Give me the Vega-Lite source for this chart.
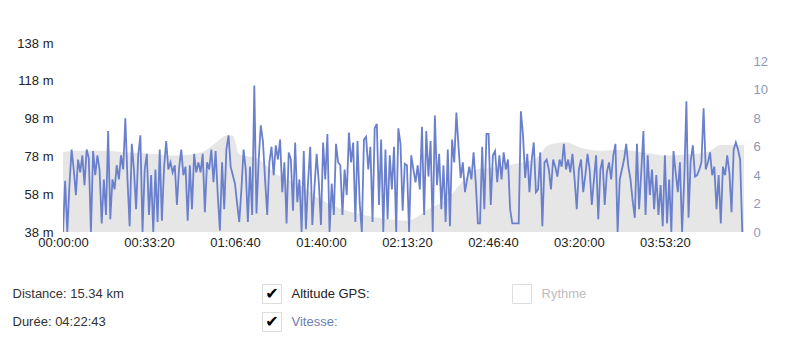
{
  "$schema": "https://vega.github.io/schema/vega-lite/v6.json",
  "background": "white",
  "padding": {"left": 12, "top": 37, "right": 5, "bottom": 0},
  "config": {"font": "Liberation Sans", "view": {"stroke": null}, "concat": {"spacing": 30}},
  "datasets": {
    "alt": [
      {"t":0,"alt":80.5},{"t":500,"alt":81},{"t":1000,"alt":81},{"t":1500,"alt":80},{"t":2000,"alt":79.5},{"t":2500,"alt":78.5},{"t":3000,"alt":79},{"t":3300,"alt":81},{"t":3600,"alt":86},{"t":3800,"alt":89},{"t":3950,"alt":89},{"t":4100,"alt":79},{"t":4500,"alt":77},{"t":5000,"alt":68},{"t":5500,"alt":63},{"t":6000,"alt":55},{"t":6500,"alt":50},{"t":7000,"alt":47},{"t":7500,"alt":45},{"t":8000,"alt":44},{"t":8500,"alt":50},{"t":9000,"alt":57},{"t":9300,"alt":65},{"t":9600,"alt":71},{"t":10000,"alt":72},{"t":10500,"alt":74},{"t":11000,"alt":77},{"t":11300,"alt":84},{"t":11700,"alt":85.5},{"t":12000,"alt":83},{"t":12500,"alt":81},{"t":13000,"alt":81.5},{"t":13500,"alt":80},{"t":14000,"alt":78.5},{"t":14500,"alt":79},{"t":15000,"alt":80.5},{"t":15300,"alt":84},{"t":15840,"alt":84}
    ],
    "speed": [
      {"t":0,"v":0},{"t":50,"v":3.6},{"t":100,"v":0},{"t":150,"v":3.3},{"t":200,"v":5.8},{"t":250,"v":4.4},{"t":300,"v":2.6},{"t":350,"v":5.1},{"t":400,"v":4.2},{"t":450,"v":5.4},
      {"t":500,"v":3.3},{"t":550,"v":5.8},{"t":600,"v":5.2},{"t":650,"v":0},{"t":700,"v":5.7},{"t":750,"v":4.0},{"t":800,"v":5.4},{"t":850,"v":4.4},{"t":900,"v":0.6},{"t":950,"v":3.7},
      {"t":1000,"v":1.2},{"t":1050,"v":7.1},{"t":1100,"v":0.9},{"t":1150,"v":3.7},{"t":1200,"v":3.0},{"t":1250,"v":4.7},{"t":1300,"v":3.7},{"t":1350,"v":5.4},{"t":1400,"v":4.4},{"t":1450,"v":8.0},
      {"t":1500,"v":3.7},{"t":1550,"v":0.4},{"t":1600,"v":6.2},{"t":1650,"v":4.4},{"t":1700,"v":1.6},{"t":1750,"v":5.4},{"t":1800,"v":6.8},{"t":1850,"v":0},{"t":1900,"v":4.4},{"t":1950,"v":5.5},
      {"t":2000,"v":1.2},{"t":2050,"v":4.0},{"t":2100,"v":0},{"t":2150,"v":4.4},{"t":2200,"v":0.7},{"t":2250,"v":5.8},{"t":2300,"v":0.8},{"t":2350,"v":4.5},{"t":2400,"v":6.4},{"t":2450,"v":4.4},
      {"t":2500,"v":4.9},{"t":2550,"v":4.2},{"t":2600,"v":4.7},{"t":2650,"v":1.9},{"t":2700,"v":4.5},{"t":2750,"v":5.8},{"t":2800,"v":4.0},{"t":2850,"v":4.6},{"t":2900,"v":0.8},{"t":2950,"v":4.7},
      {"t":3000,"v":1.6},{"t":3050,"v":5.5},{"t":3100,"v":4.2},{"t":3150,"v":4.9},{"t":3200,"v":4.2},{"t":3250,"v":5.5},{"t":3300,"v":1.4},{"t":3350,"v":4.9},{"t":3400,"v":4.4},{"t":3450,"v":5.8},
      {"t":3500,"v":3.5},{"t":3550,"v":5.7},{"t":3600,"v":2.6},{"t":3650,"v":0.1},{"t":3700,"v":4.9},{"t":3750,"v":1.6},{"t":3800,"v":5.8},{"t":3850,"v":6.8},{"t":3900,"v":4.6},{"t":3950,"v":4.0},
      {"t":4000,"v":3.4},{"t":4050,"v":2.0},{"t":4100,"v":0.7},{"t":4150,"v":3.0},{"t":4200,"v":5.8},{"t":4250,"v":4.4},{"t":4300,"v":0.7},{"t":4350,"v":4.6},{"t":4400,"v":1.2},{"t":4450,"v":10.3},
      {"t":4500,"v":1.3},{"t":4550,"v":5.0},{"t":4600,"v":7.5},{"t":4650,"v":6.4},{"t":4700,"v":3.7},{"t":4750,"v":1.2},{"t":4800,"v":4.9},{"t":4850,"v":6.0},{"t":4900,"v":4.0},{"t":4950,"v":6.1},
      {"t":5000,"v":5.1},{"t":5050,"v":6.5},{"t":5100,"v":2.8},{"t":5150,"v":4.9},{"t":5200,"v":0.6},{"t":5250,"v":5.6},{"t":5300,"v":5.1},{"t":5350,"v":1.5},{"t":5400,"v":6.3},{"t":5450,"v":2.1},
      {"t":5500,"v":3.7},{"t":5550,"v":0},{"t":5600,"v":5.7},{"t":5650,"v":0.2},{"t":5700,"v":3.5},{"t":5750,"v":6.0},{"t":5800,"v":0.5},{"t":5850,"v":3.2},{"t":5900,"v":5.5},{"t":5950,"v":3.5},
      {"t":6000,"v":0.5},{"t":6050,"v":6.3},{"t":6100,"v":3.7},{"t":6150,"v":6.9},{"t":6200,"v":0},{"t":6250,"v":3.4},{"t":6300,"v":1.2},{"t":6350,"v":6.2},{"t":6400,"v":4.9},{"t":6450,"v":4.7},
      {"t":6500,"v":1.2},{"t":6550,"v":4.4},{"t":6600,"v":2.6},{"t":6650,"v":7.0},{"t":6700,"v":4.9},{"t":6750,"v":6.3},{"t":6800,"v":0.7},{"t":6850,"v":6.4},{"t":6900,"v":2.1},{"t":6950,"v":0},
      {"t":7000,"v":6.5},{"t":7050,"v":6.7},{"t":7100,"v":4.4},{"t":7150,"v":6.0},{"t":7200,"v":0.7},{"t":7250,"v":7.3},{"t":7300,"v":7.6},{"t":7350,"v":1.9},{"t":7400,"v":6.5},{"t":7450,"v":0},
      {"t":7500,"v":5.8},{"t":7550,"v":0.9},{"t":7600,"v":5.4},{"t":7650,"v":3.0},{"t":7700,"v":6.0},{"t":7750,"v":0},{"t":7800,"v":7.3},{"t":7850,"v":6.2},{"t":7900,"v":1.5},{"t":7950,"v":4.8},
      {"t":8000,"v":4.7},{"t":8050,"v":0},{"t":8100,"v":5.4},{"t":8150,"v":4.4},{"t":8200,"v":3.5},{"t":8250,"v":4.7},{"t":8300,"v":3.0},{"t":8350,"v":7.4},{"t":8400,"v":1.2},{"t":8450,"v":7.1},
      {"t":8500,"v":3.9},{"t":8550,"v":6.4},{"t":8600,"v":0},{"t":8650,"v":8.2},{"t":8700,"v":3.3},{"t":8750,"v":5.5},{"t":8800,"v":1.6},{"t":8850,"v":4.7},{"t":8900,"v":0.7},{"t":8950,"v":5.8},
      {"t":9000,"v":0.4},{"t":9050,"v":6.5},{"t":9100,"v":4.9},{"t":9150,"v":8.4},{"t":9200,"v":6.0},{"t":9250,"v":3.8},{"t":9300,"v":4.9},{"t":9350,"v":2.8},{"t":9400,"v":3.7},{"t":9450,"v":4.6},
      {"t":9500,"v":3.7},{"t":9550,"v":5.6},{"t":9600,"v":3.5},{"t":9650,"v":0.6},{"t":9700,"v":0.6},{"t":9750,"v":6.0},{"t":9800,"v":1.6},{"t":9850,"v":6.9},{"t":9900,"v":6.9},{"t":9950,"v":1.9},
      {"t":10000,"v":5.4},{"t":10050,"v":5.7},{"t":10100,"v":3.5},{"t":10150,"v":5.4},{"t":10200,"v":3.7},{"t":10250,"v":5.6},{"t":10300,"v":4.4},{"t":10350,"v":5.1},{"t":10400,"v":1.6},{"t":10450,"v":0.6},
      {"t":10500,"v":0.6},{"t":10550,"v":0.6},{"t":10600,"v":0.6},{"t":10650,"v":8.5},{"t":10700,"v":6.8},{"t":10750,"v":3.8},{"t":10800,"v":5.5},{"t":10850,"v":2.8},{"t":10900,"v":5.0},{"t":10950,"v":6.3},
      {"t":11000,"v":2.8},{"t":11050,"v":3.0},{"t":11100,"v":5.6},{"t":11150,"v":0.4},{"t":11200,"v":4.9},{"t":11250,"v":5.1},{"t":11300,"v":4.4},{"t":11350,"v":3.0},{"t":11400,"v":5.1},{"t":11450,"v":4.6},
      {"t":11500,"v":3.9},{"t":11550,"v":5.1},{"t":11600,"v":4.6},{"t":11650,"v":6.2},{"t":11700,"v":4.4},{"t":11750,"v":5.1},{"t":11800,"v":4.2},{"t":11850,"v":5.5},{"t":11900,"v":3.7},{"t":11950,"v":1.6},
      {"t":12000,"v":4.4},{"t":12050,"v":5.1},{"t":12100,"v":2.8},{"t":12150,"v":4.0},{"t":12200,"v":5.5},{"t":12250,"v":4.4},{"t":12300,"v":1.9},{"t":12350,"v":3.7},{"t":12400,"v":5.4},{"t":12450,"v":0.9},
      {"t":12500,"v":4.4},{"t":12550,"v":5.1},{"t":12600,"v":1.9},{"t":12650,"v":4.2},{"t":12700,"v":4.9},{"t":12750,"v":3.7},{"t":12800,"v":5.4},{"t":12850,"v":6.2},{"t":12900,"v":0},{"t":12950,"v":3.7},
      {"t":13000,"v":4.4},{"t":13050,"v":5.1},{"t":13100,"v":6.2},{"t":13150,"v":4.6},{"t":13200,"v":3.7},{"t":13250,"v":2.2},{"t":13300,"v":1.0},{"t":13350,"v":6.2},{"t":13400,"v":1.6},{"t":13450,"v":4.2},
      {"t":13500,"v":7.1},{"t":13550,"v":1.2},{"t":13600,"v":5.4},{"t":13650,"v":2.6},{"t":13700,"v":4.4},{"t":13750,"v":1.6},{"t":13800,"v":4.0},{"t":13850,"v":1.2},{"t":13900,"v":3.3},{"t":13950,"v":0.4},
      {"t":14000,"v":5.4},{"t":14050,"v":0.6},{"t":14100,"v":3.7},{"t":14150,"v":0},{"t":14200,"v":5.7},{"t":14250,"v":4.2},{"t":14300,"v":2.8},{"t":14350,"v":4.9},{"t":14400,"v":0},{"t":14450,"v":3.7},
      {"t":14500,"v":9.2},{"t":14550,"v":1.0},{"t":14600,"v":5.0},{"t":14650,"v":6.1},{"t":14700,"v":3.9},{"t":14750,"v":4.0},{"t":14800,"v":4.4},{"t":14850,"v":4.9},{"t":14900,"v":8.7},{"t":14950,"v":4.4},
      {"t":15000,"v":4.9},{"t":15050,"v":5.6},{"t":15100,"v":4.0},{"t":15150,"v":4.6},{"t":15200,"v":1.6},{"t":15250,"v":4.0},{"t":15300,"v":0.6},{"t":15350,"v":4.6},{"t":15400,"v":4.0},{"t":15450,"v":5.4},
      {"t":15500,"v":4.2},{"t":15550,"v":1.4},{"t":15600,"v":5.8},{"t":15650,"v":6.3},{"t":15700,"v":5.8},{"t":15750,"v":5.1},{"t":15800,"v":0}
    ],
    "info": [
      {"col":0,"row":0,"kind":"info","series":"info","label":"Distance: 15.34 km","checked":false},
      {"col":0,"row":1,"kind":"info","series":"info","label":"Durée: 04:22:43","checked":false},
      {"col":1,"row":0,"kind":"series","series":"altitude","label":"Altitude GPS:","checked":true},
      {"col":1,"row":1,"kind":"series","series":"vitesse","label":"Vitesse:","checked":true},
      {"col":2,"row":0,"kind":"series","series":"rythme","label":"Rythme","checked":false}
    ]
  },
  "vconcat": [
    {
      "width": 681,
      "height": 189,
      "layer": [
        {
          "data": {"name": "alt"},
          "mark": {"type": "area", "color": "#e6e6e6", "interpolate": "monotone", "clip": true},
          "encoding": {
            "x": {
              "field": "t", "type": "quantitative",
              "scale": {"domain": [0, 15840], "nice": false, "zero": false},
              "axis": {"values": [0,2000,4000,6000,8000,10000,12000,14000], "labelExpr": "utcFormat(datum.value*1000, '%H:%M:%S')", "labelFlush": false, "ticks": false, "tickSize": 0, "domain": false, "grid": false, "labelPadding": 4, "labelFontSize": 13, "labelColor": "#222222", "title": null, "labelOverlap": false}
            },
            "y": {
              "field": "alt", "type": "quantitative",
              "scale": {"domain": [38, 138], "nice": false, "zero": false},
              "axis": {"values": [38,58,78,98,118,138], "labelExpr": "datum.value + ' m'", "ticks": false, "tickSize": 0, "domain": false, "grid": false, "labelPadding": 10, "labelFontSize": 13, "labelColor": "#222222", "title": null, "minExtent": 50, "maxExtent": 50}
            }
          }
        },
        {
          "data": {"name": "speed"},
          "mark": {"type": "line", "color": "#6a80cc", "strokeWidth": 1.8, "clip": true},
          "encoding": {
            "x": {"field": "t", "type": "quantitative"},
            "y": {
              "field": "v", "type": "quantitative",
              "scale": {"domain": [0, 13.3], "nice": false, "zero": true},
              "axis": {"orient": "right", "values": [0,2,4,6,8,10,12], "ticks": false, "tickSize": 0, "domain": false, "grid": false, "labelPadding": 9, "labelFontSize": 13, "labelColor": "#8e98b8", "title": null}
            }
          }
        }
      ],
      "resolve": {"scale": {"y": "independent"}}
    },
    {
      "data": {"name": "info"},
      "width": {"step": 250},
      "height": {"step": 28},
      "encoding": {
        "x": {"field": "col", "type": "ordinal", "scale": {"type": "band", "paddingInner": 0, "paddingOuter": 0}, "axis": null, "bandPosition": 0},
        "y": {"field": "row", "type": "ordinal", "scale": {"type": "point", "padding": 0.5}, "axis": null}
      },
      "layer": [
        {
          "transform": [{"filter": "datum.kind === 'info'"}],
          "mark": {"type": "text", "align": "left", "baseline": "middle", "xOffset": -50.5, "yOffset": 1, "fontSize": 13, "color": "#333333"},
          "encoding": {"text": {"field": "label"}}
        },
        {
          "transform": [{"filter": "datum.kind === 'series'"}],
          "mark": {"type": "square", "size": 361, "xOffset": -41, "yOffset": 1, "filled": true, "fill": "white", "stroke": "#dddddd", "strokeWidth": 1, "opacity": 1}
        },
        {
          "transform": [{"filter": "datum.checked"}],
          "mark": {"type": "text", "text": "✔", "xOffset": -41, "yOffset": 1, "align": "center", "baseline": "middle", "fontSize": 16, "font": "DejaVu Sans", "color": "#000000"}
        },
        {
          "transform": [{"filter": "datum.kind === 'series'"}],
          "mark": {"type": "text", "align": "left", "baseline": "middle", "xOffset": -21.5, "yOffset": 1, "fontSize": 13},
          "encoding": {
            "text": {"field": "label"},
            "color": {"field": "series", "type": "nominal", "scale": {"domain": ["info","altitude","vitesse","rythme"], "range": ["#333333","#222222","#6d7db0","#bdbdbd"]}, "legend": null}
          }
        }
      ]
    }
  ]
}
